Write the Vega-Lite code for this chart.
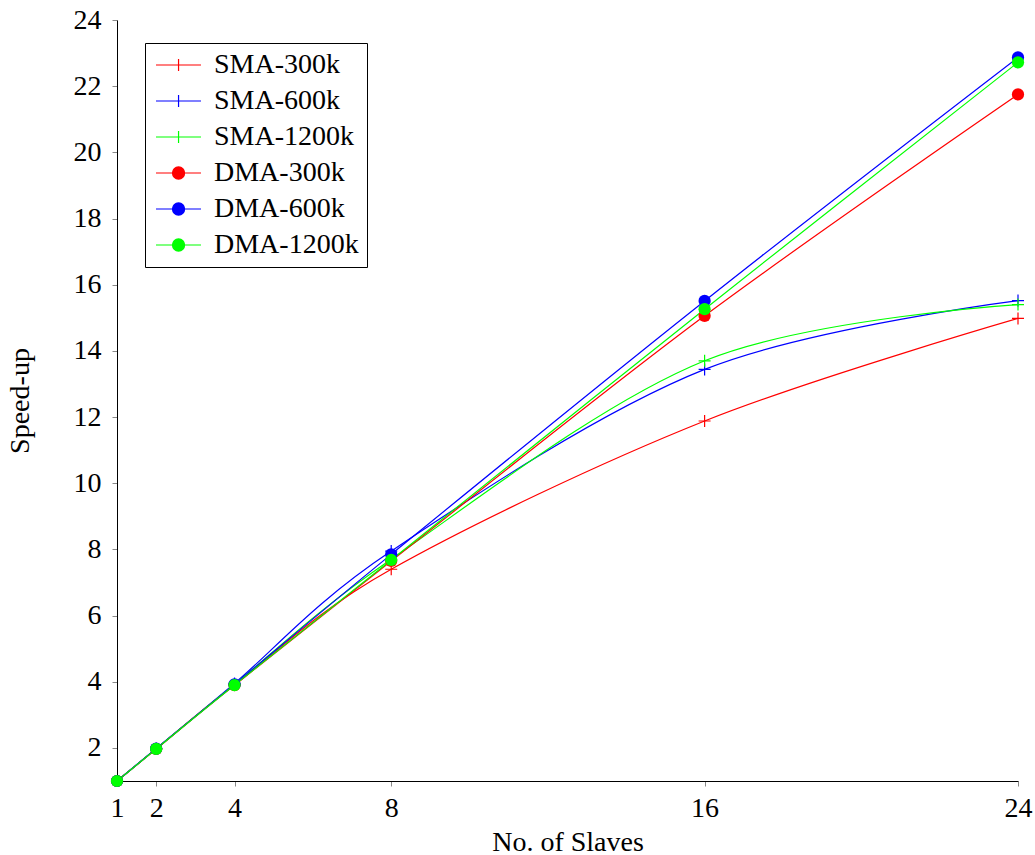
{
  "$schema": "https://vega.github.io/schema/vega-lite/v6.json",
  "width": 901,
  "height": 761,
  "autosize": {"type": "none"},
  "padding": {"left": 117, "top": 20, "right": 17, "bottom": 74},
  "background": "white",
  "config": {
    "view": {"stroke": null},
    "axis": {
      "grid": false,
      "domainColor": "black",
      "domainWidth": 1,
      "tickColor": "#888888",
      "tickWidth": 1,
      "tickSize": 5,
      "labelFont": "Liberation Serif",
      "labelFontSize": 28,
      "labelColor": "black",
      "labelFlush": false,
      "labelOverlap": false,
      "titleFont": "Liberation Serif",
      "titleFontSize": 28,
      "titleFontWeight": "normal",
      "titleColor": "black"
    }
  },
  "data": {
    "values": [
      {"series": "SMA-300k", "slaves": 1, "speedup": 1},
      {"series": "SMA-300k", "slaves": 2, "speedup": 1.97},
      {"series": "SMA-300k", "slaves": 4, "speedup": 3.9},
      {"series": "SMA-300k", "slaves": 8, "speedup": 7.4},
      {"series": "SMA-300k", "slaves": 16, "speedup": 11.88},
      {"series": "SMA-300k", "slaves": 24, "speedup": 14.98},
      {"series": "SMA-600k", "slaves": 1, "speedup": 1},
      {"series": "SMA-600k", "slaves": 2, "speedup": 1.98},
      {"series": "SMA-600k", "slaves": 4, "speedup": 3.95},
      {"series": "SMA-600k", "slaves": 8, "speedup": 7.95},
      {"series": "SMA-600k", "slaves": 16, "speedup": 13.44},
      {"series": "SMA-600k", "slaves": 24, "speedup": 15.52},
      {"series": "SMA-1200k", "slaves": 1, "speedup": 1},
      {"series": "SMA-1200k", "slaves": 2, "speedup": 1.97},
      {"series": "SMA-1200k", "slaves": 4, "speedup": 3.92},
      {"series": "SMA-1200k", "slaves": 8, "speedup": 7.7},
      {"series": "SMA-1200k", "slaves": 16, "speedup": 13.7},
      {"series": "SMA-1200k", "slaves": 24, "speedup": 15.4},
      {"series": "DMA-300k", "slaves": 1, "speedup": 1},
      {"series": "DMA-300k", "slaves": 2, "speedup": 1.97},
      {"series": "DMA-300k", "slaves": 4, "speedup": 3.9},
      {"series": "DMA-300k", "slaves": 8, "speedup": 7.65},
      {"series": "DMA-300k", "slaves": 16, "speedup": 15.06},
      {"series": "DMA-300k", "slaves": 24, "speedup": 21.75},
      {"series": "DMA-600k", "slaves": 1, "speedup": 1},
      {"series": "DMA-600k", "slaves": 2, "speedup": 1.98},
      {"series": "DMA-600k", "slaves": 4, "speedup": 3.92},
      {"series": "DMA-600k", "slaves": 8, "speedup": 7.85},
      {"series": "DMA-600k", "slaves": 16, "speedup": 15.51},
      {"series": "DMA-600k", "slaves": 24, "speedup": 22.87},
      {"series": "DMA-1200k", "slaves": 1, "speedup": 1},
      {"series": "DMA-1200k", "slaves": 2, "speedup": 1.97},
      {"series": "DMA-1200k", "slaves": 4, "speedup": 3.9},
      {"series": "DMA-1200k", "slaves": 8, "speedup": 7.68},
      {"series": "DMA-1200k", "slaves": 16, "speedup": 15.26},
      {"series": "DMA-1200k", "slaves": 24, "speedup": 22.72}
    ]
  },
  "encoding": {
    "x": {
      "field": "slaves", "type": "quantitative",
      "scale": {"domain": [1, 24], "nice": false, "zero": false},
      "axis": {"values": [1, 2, 4, 8, 16, 24], "title": "No. of Slaves", "labelPadding": 8, "titlePadding": 6}
    },
    "y": {
      "field": "speedup", "type": "quantitative",
      "scale": {"domain": [1, 24], "nice": false, "zero": false},
      "axis": {"values": [2, 4, 6, 8, 10, 12, 14, 16, 18, 20, 22, 24], "title": "Speed-up", "labelPadding": 11, "titlePadding": 39}
    }
  },
  "layer": [
    {
      "mark": {"type": "line", "interpolate": "cardinal", "strokeWidth": 1.2},
      "encoding": {
        "color": {
          "field": "series", "type": "nominal",
          "scale": {
            "range": ["#00ff00", "#ff0000", "#0000ff", "#00ff00", "#ff0000", "#0000ff"]
          },
          "legend": null
        }
      }
    },
    {
      "transform": [{"filter": {"field": "series", "oneOf": ["SMA-300k", "SMA-600k", "SMA-1200k"]}}],
      "mark": {"type": "point", "shape": "M-1,0H1M0,-1V1", "filled": false, "size": 144, "strokeWidth": 1.2, "opacity": 1},
      "encoding": {"color": {"field": "series", "type": "nominal", "legend": null}}
    },
    {
      "transform": [{"filter": {"field": "series", "oneOf": ["DMA-300k", "DMA-600k", "DMA-1200k"]}}],
      "mark": {"type": "point", "shape": "circle", "filled": true, "size": 150, "opacity": 1},
      "encoding": {"color": {"field": "series", "type": "nominal", "legend": null}}
    },
    {
      "transform": [{"filter": "false"}],
      "mark": {
        "type": "point",
        "filled": true,
        "opacity": 1,
        "fill": {"expr": "scale('color', datum.value)"},
        "stroke": {"expr": "scale('color', datum.value)"},
        "strokeWidth": 1.2
      },
      "encoding": {
        "shape": {
          "field": "series", "type": "nominal",
          "scale": {
            "domain": ["SMA-300k", "SMA-600k", "SMA-1200k", "DMA-300k", "DMA-600k", "DMA-1200k"],
            "range": [
              "M-1,0H3.09M1.05,-0.55V0.55",
              "M-1,0H3.09M1.05,-0.55V0.55",
              "M-1,0H3.09M1.05,-0.55V0.55",
              "M-1,0H3.09M0.5,0A0.55,0.55 0 1,0 1.6,0A0.55,0.55 0 1,0 0.5,0Z",
              "M-1,0H3.09M0.5,0A0.55,0.55 0 1,0 1.6,0A0.55,0.55 0 1,0 0.5,0Z",
              "M-1,0H3.09M0.5,0A0.55,0.55 0 1,0 1.6,0A0.55,0.55 0 1,0 0.5,0Z"
            ]
          },
          "legend": {
            "title": null,
            "orient": "none",
            "legendX": 28,
            "legendY": 23,
            "padding": 8,
            "rowPadding": 8,
            "labelOffset": 33,
            "symbolSize": 484,
            "symbolStrokeWidth": 1.2,
            "labelFont": "Liberation Serif",
            "labelFontSize": 28,
            "labelColor": "black",
            "strokeColor": "black",
            "fillColor": "white"
          }
        }
      }
    }
  ]
}
